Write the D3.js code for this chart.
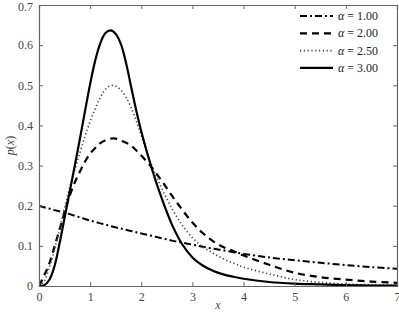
<!DOCTYPE html>
<html>
<head>
<meta charset="utf-8">
<script src="https://cdn.jsdelivr.net/npm/d3@7"></script>
<style>
  body { margin: 0; background: #fff; }
  svg text { font-family: "Liberation Serif", "DejaVu Serif", serif; }
</style>
</head>
<body>
<div id="chart"></div>
<script>
// values
var xs = [0, 0.1, 0.2, 0.3, 0.4, 0.5, 0.6, 0.7, 0.8, 0.9, 1.0, 1.1, 1.2, 1.3, 1.4, 1.5, 1.6, 1.7, 1.8, 1.9,
          2.0, 2.2, 2.4, 2.6, 2.8, 3.0, 3.2, 3.4, 3.6, 3.8, 4.0, 4.5, 5.0, 5.5, 6.0, 6.5, 7.0];

var alpha1 = [0.200, 0.196, 0.193, 0.189, 0.186, 0.183, 0.179, 0.175, 0.171, 0.167, 0.163, 0.160, 0.156, 0.153, 0.149, 0.146, 0.143, 0.140, 0.137, 0.134,
              0.131, 0.125, 0.119, 0.113, 0.108, 0.103, 0.098, 0.093, 0.089, 0.084, 0.080, 0.071, 0.064, 0.058, 0.052, 0.047, 0.043];
var alpha2 = [0, 0.026, 0.055, 0.097, 0.140, 0.183, 0.225, 0.258, 0.285, 0.310, 0.330, 0.344, 0.356, 0.363, 0.367, 0.367, 0.362, 0.357, 0.350, 0.338,
              0.325, 0.296, 0.262, 0.225, 0.190, 0.158, 0.132, 0.112, 0.097, 0.087, 0.076, 0.053, 0.033, 0.022, 0.016, 0.011, 0.008];
var alpha25 = [0, 0.012, 0.045, 0.090, 0.140, 0.195, 0.245, 0.290, 0.332, 0.373, 0.410, 0.442, 0.470, 0.490, 0.499, 0.498, 0.488, 0.470, 0.445, 0.412,
               0.375, 0.302, 0.243, 0.193, 0.152, 0.120, 0.098, 0.082, 0.068, 0.057, 0.047, 0.030, 0.016, 0.009, 0.005, 0.003, 0.002];
var alpha3 = [0, 0.002, 0.015, 0.048, 0.105, 0.170, 0.235, 0.300, 0.367, 0.436, 0.503, 0.562, 0.605, 0.630, 0.637, 0.628, 0.603, 0.557, 0.497, 0.438,
              0.385, 0.295, 0.218, 0.153, 0.104, 0.071, 0.051, 0.038, 0.029, 0.023, 0.018, 0.010, 0.006, 0.004, 0.002, 0.001, 0.001];

var series = [
  { label: "1.00", values: alpha1, dash: "7,3,2,3", width: 2, color: "#000" },
  { label: "2.00", values: alpha2, dash: "7,5", width: 2.2, color: "#000" },
  { label: "2.50", values: alpha25, dash: "1.2,2.6", width: 1.7, color: "#444" },
  { label: "3.00", values: alpha3, dash: null, width: 2.2, color: "#000" }
];

var xTicks = [0, 1, 2, 3, 4, 5, 6, 7];
var yTicks = [0, 0.1, 0.2, 0.3, 0.4, 0.5, 0.6, 0.7];

var width = 399, height = 313;
var margin = { left: 39, right: 2, top: 5, bottom: 27 };
var serif = "Liberation Serif";

var svg = d3.select("#chart").append("svg")
    .attr("width", width)
    .attr("height", height);

var x = d3.scaleLinear().domain([0, 7]).range([margin.left, width - margin.right]);
var y = d3.scaleLinear().domain([0, 0.7]).range([height - margin.bottom, margin.top]);

var frameColor = "#666";
var labelColor = "#444";

// curves
var line = d3.line()
    .x(function(d) { return x(d[0]); })
    .y(function(d) { return y(d[1]); })
    .curve(d3.curveCatmullRom.alpha(0.5));

svg.append("clipPath").attr("id", "clip")
    .append("rect")
    .attr("x", x(0)).attr("y", y(0.7))
    .attr("width", x(7) - x(0)).attr("height", y(0) - y(0.7));

var plot = svg.append("g").attr("clip-path", "url(#clip)");

series.forEach(function(s) {
  plot.append("path")
      .datum(xs.map(function(v, i) { return [v, s.values[i]]; }))
      .attr("d", line)
      .attr("fill", "none")
      .attr("stroke", s.color)
      .attr("stroke-width", s.width)
      .attr("stroke-dasharray", s.dash);
});

// axes, ticks pointing inward on all four sides
var tick = 4;
svg.append("g")
    .attr("transform", "translate(0," + y(0) + ")")
    .call(d3.axisBottom(x).tickValues(xTicks).tickSize(-tick).tickPadding(6).tickFormat(d3.format("d")));
svg.append("g")
    .attr("transform", "translate(0," + y(0.7) + ")")
    .call(d3.axisTop(x).tickValues(xTicks).tickSize(-tick).tickFormat(""));
svg.append("g")
    .attr("transform", "translate(" + x(0) + ",0)")
    .call(d3.axisLeft(y).tickValues(yTicks).tickSize(-tick).tickPadding(6)
      .tickFormat(function(d) { return d === 0 ? "0" : d3.format(".1f")(d); }));
svg.append("g")
    .attr("transform", "translate(" + x(7) + ",0)")
    .call(d3.axisRight(y).tickValues(yTicks).tickSize(-tick).tickFormat(""));

svg.selectAll("g").attr("font-family", serif).attr("font-size", 12);
svg.selectAll(".domain").attr("stroke", frameColor).attr("stroke-width", 1.2);
svg.selectAll(".tick line").attr("stroke", frameColor);
svg.selectAll(".tick text")
    .attr("fill", labelColor)
    .attr("font-family", serif)
    .attr("font-size", 12);
// keep the top label inside the picture
svg.selectAll(".tick text").filter(function(d) { return d === 0.7; }).attr("dy", "0.38em").attr("y", 1);

// axis titles
svg.append("text")
    .attr("x", (x(0) + x(7)) / 2)
    .attr("y", height - 4)
    .attr("text-anchor", "middle")
    .attr("font-family", serif)
    .attr("font-style", "italic")
    .attr("font-size", 12)
    .attr("fill", labelColor)
    .text("x");

var yl = svg.append("text")
    .attr("transform", "translate(14," + (y(0.35)) + ") rotate(-90)")
    .attr("text-anchor", "middle")
    .attr("font-family", serif)
    .attr("font-size", 12)
    .attr("fill", labelColor);
yl.append("tspan").attr("font-style", "italic").text("p");
yl.append("tspan").text("(");
yl.append("tspan").attr("font-style", "italic").text("x");
yl.append("tspan").text(")");

// legend
var legend = svg.append("g");
series.forEach(function(s, i) {
  var ly = 16 + i * 17.3;
  legend.append("line")
      .attr("x1", 300).attr("x2", 333)
      .attr("y1", ly).attr("y2", ly)
      .attr("stroke", s.color)
      .attr("stroke-width", s.width)
      .attr("stroke-dasharray", s.dash);
  var t = legend.append("text")
      .attr("x", 338).attr("y", ly + 4)
      .attr("font-family", serif)
      .attr("font-size", 12)
      .attr("fill", "#222");
  t.append("tspan").attr("font-style", "italic").text("α");
  t.append("tspan").text(" = " + s.label);
});
</script>
</body>
</html>
